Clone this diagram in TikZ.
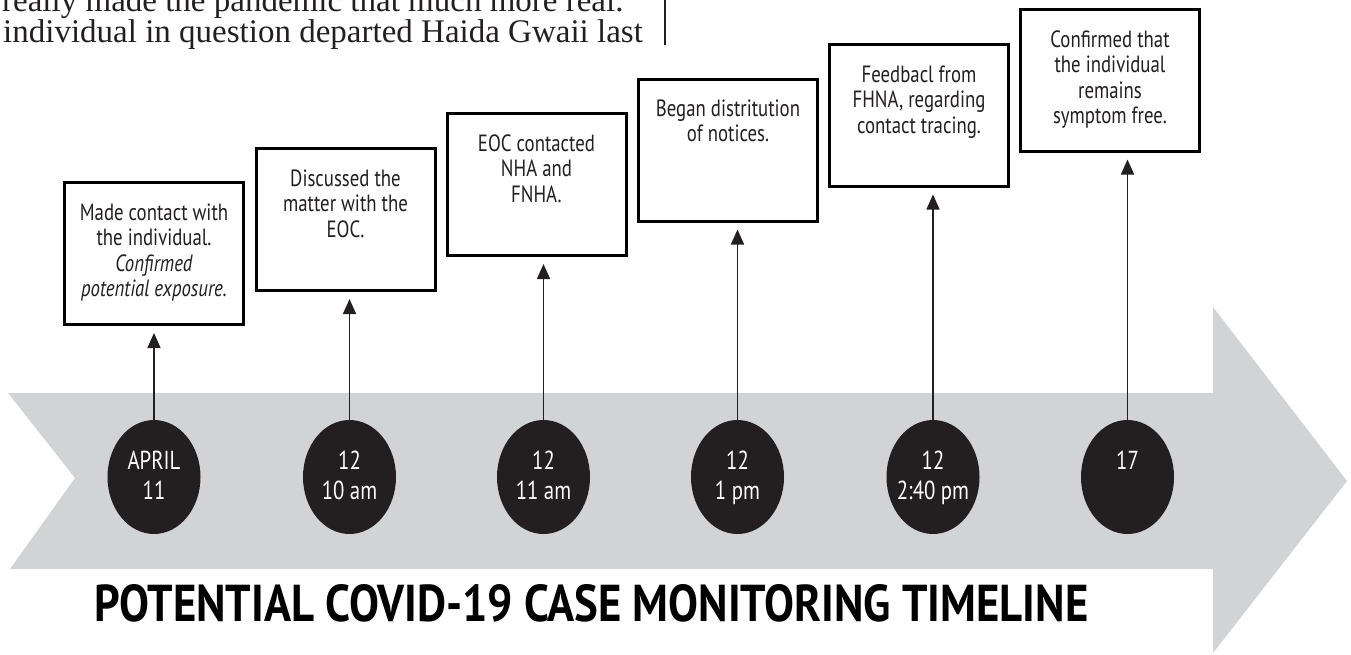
\documentclass[tikz,border=0pt]{standalone}
\usepackage{graphicx}
\usepackage{fontspec}
\setmainfont{Liberation Serif}
\newfontfamily\boxfont[FakeStretch=0.8]{PT Sans}
\newfontfamily\titlefont{PT Sans}
\usetikzlibrary{arrows.meta,shapes.geometric}
\definecolor{bandgray}{HTML}{D1D3D4}
\definecolor{dotblack}{HTML}{231F20}
\newcommand{\firstln}[1]{\rule{0pt}{#1}}
\begin{document}
\begin{tikzpicture}[x=1pt,y=-1pt,
  eventbox/.style={draw=black, line width=3pt, minimum width=179pt, minimum height=142pt, inner sep=0pt, fill=white},
  eventtext/.style={anchor=north, inner sep=0pt, align=center, text=dotblack,
    font=\boxfont\fontsize{23.5}{25.5}\selectfont},
  datedot/.style={ellipse, fill=dotblack, minimum width=93pt, minimum height=114pt, inner sep=0pt},
  datetext/.style={anchor=north, inner sep=0pt, align=center, text=white,
    font=\boxfont\fontsize{26}{30}\selectfont},
  conn/.style={line width=1.5pt, draw=dotblack, -{Triangle[width=13pt,length=15pt]}, shorten >=7pt}]
\useasboundingbox (0,0) rectangle (1351,654);
\clip (0,0) rectangle (1351,654);
% background text column
\node[anchor=base west, inner sep=0pt, font=\fontsize{33}{28}\selectfont, text=dotblack] (para1) at (2,11) {really made the pandemic that much more real.};
\node[anchor=base west, inner sep=0pt, font=\fontsize{33}{28}\selectfont, text=dotblack] (para2) at (3,42) {individual in question departed Haida Gwaii last};
\coordinate (rt) at (665,0);
\coordinate (rb) at (665,45);
\draw[line width=1.5pt, dotblack] (rt) -- (rb);
% band arrow
\fill[bandgray] (8,393) -- (1213,393) -- (1213,307) -- (1347,481) -- (1213,653) -- (1213,569) -- (10,569) -- (75,478) -- cycle;
% boxes
\node[eventbox] (b1) at (154,253.5) {};
\node[eventbox] (b2) at (345.5,219.5) {};
\node[eventbox] (b3) at (536.5,184.5) {};
\node[eventbox] (b4) at (728,150) {};
\node[eventbox] (b5) at (919,115) {};
\node[eventbox] (b6) at (1110,80) {};
\node[eventtext] (t1) at (154,202) {\firstln{18pt}Made contact with\\the individual.\\\itshape Confirmed\\\itshape potential exposure.};
\node[eventtext] (t2) at (345.5,168) {\firstln{18pt}Discussed the\\matter with the\\EOC.};
\node[eventtext] (t3) at (536.5,133) {\firstln{18pt}EOC contacted\\NHA and\\FNHA.};
\node[eventtext] (t4) at (728,98) {\firstln{18pt}Began distritution\\of notices.};
\node[eventtext] (t5) at (919,64) {\firstln{18pt}Feedbacl from\\FHNA, regarding\\contact tracing.};
\node[eventtext] (t6) at (1110,29) {\firstln{18pt}Confirmed that\\the individual\\remains\\symptom free.};
% date dots
\node[datedot] (e1) at (154,477) {};
\node[datedot] (e2) at (349.5,477) {};
\node[datedot] (e3) at (543.5,477) {};
\node[datedot] (e4) at (737.5,477) {};
\node[datedot] (e5) at (933,477) {};
\node[datedot] (e6) at (1127.5,477) {};
\node[datetext] (d1) at (154,450) {\firstln{19pt}APRIL\\11};
\node[datetext] (d2) at (349.5,450) {\firstln{19pt}12\\10 am};
\node[datetext] (d3) at (543.5,450) {\firstln{19pt}12\\11 am};
\node[datetext] (d4) at (737.5,450) {\firstln{19pt}12\\1 pm};
\node[datetext] (d5) at (933,450) {\firstln{19pt}12\\2:40 pm};
\node[datetext] (d6) at (1127.5,450) {\firstln{19pt}17};
% connectors
\foreach \i in {1,...,6}{
  \draw[conn] (e\i.north) -- (e\i.north |- b\i.south);
}
% title
\node[anchor=base west, inner sep=0pt] (title) at (94,621) {\resizebox{994pt}{37pt}{\titlefont\bfseries POTENTIAL COVID-19 CASE MONITORING TIMELINE}};
\end{tikzpicture}
\end{document}
